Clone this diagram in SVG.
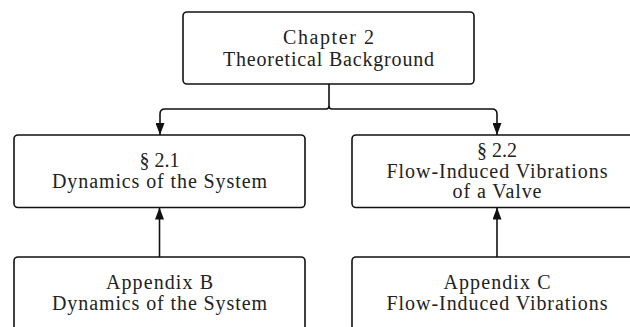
<svg xmlns="http://www.w3.org/2000/svg" width="630" height="327" viewBox="0 0 630 327">
  <defs>
    <marker id="arrowhead" viewBox="0 0 12 9" refX="12" refY="4.5" markerWidth="12" markerHeight="9" markerUnits="userSpaceOnUse" orient="auto">
      <path d="M0,0 L12,4.5 L0,9 Z" fill="#111"/>
    </marker>
  </defs>
  <style>
    .box { fill: #fff; stroke: #111; stroke-width: 1.6; }
    .label { font-family: "Liberation Serif", "Times New Roman", serif; font-size: 20px; fill: #222; text-anchor: middle; }
    .wire { fill: none; stroke: #111; stroke-width: 1.6; }
  </style>
  <rect width="630" height="327" fill="#fff"/>

  <g id="connectors">
    <!-- chapter fans out to both sections -->
    <path class="wire" d="M329,84 V106 Q329,109 326,109 H165 Q160,109 160,114 V135" marker-end="url(#arrowhead)"/>
    <path class="wire" d="M329,106 Q329,109 332,109 H492 Q497,109 497,114 V135" marker-end="url(#arrowhead)"/>
    <!-- appendices feed their sections -->
    <path class="wire" d="M159.5,257 V207.5" marker-end="url(#arrowhead)"/>
    <path class="wire" d="M497,257 V207.5" marker-end="url(#arrowhead)"/>
  </g>

  <g id="chapter2">
    <rect class="box" x="183" y="12" width="291" height="72" rx="4"/>
    <text class="label" x="328.5" y="44" textLength="91" lengthAdjust="spacing">Chapter 2</text>
    <text class="label" x="328.5" y="65.5" textLength="211" lengthAdjust="spacing">Theoretical Background</text>
  </g>

  <g id="section21">
    <rect class="box" x="14" y="135" width="291" height="72.5" rx="4"/>
    <text class="label" x="159.5" y="167">§ 2.1</text>
    <text class="label" x="159.5" y="188" textLength="215" lengthAdjust="spacing">Dynamics of the System</text>
  </g>

  <g id="section22">
    <rect class="box" x="352" y="135" width="290" height="72.5" rx="4"/>
    <text class="label" x="497" y="157">§ 2.2</text>
    <text class="label" x="497" y="177.5" textLength="221" lengthAdjust="spacing">Flow-Induced Vibrations</text>
    <text class="label" x="497" y="198" textLength="89" lengthAdjust="spacing">of a Valve</text>
  </g>

  <g id="appendixB">
    <rect class="box" x="14" y="257" width="291" height="80" rx="4"/>
    <text class="label" x="159.5" y="289" textLength="107" lengthAdjust="spacing">Appendix B</text>
    <text class="label" x="159.5" y="310" textLength="215" lengthAdjust="spacing">Dynamics of the System</text>
  </g>

  <g id="appendixC">
    <rect class="box" x="352" y="257" width="290" height="80" rx="4"/>
    <text class="label" x="497" y="289" textLength="107" lengthAdjust="spacing">Appendix C</text>
    <text class="label" x="497" y="310" textLength="221" lengthAdjust="spacing">Flow-Induced Vibrations</text>
  </g>
</svg>
